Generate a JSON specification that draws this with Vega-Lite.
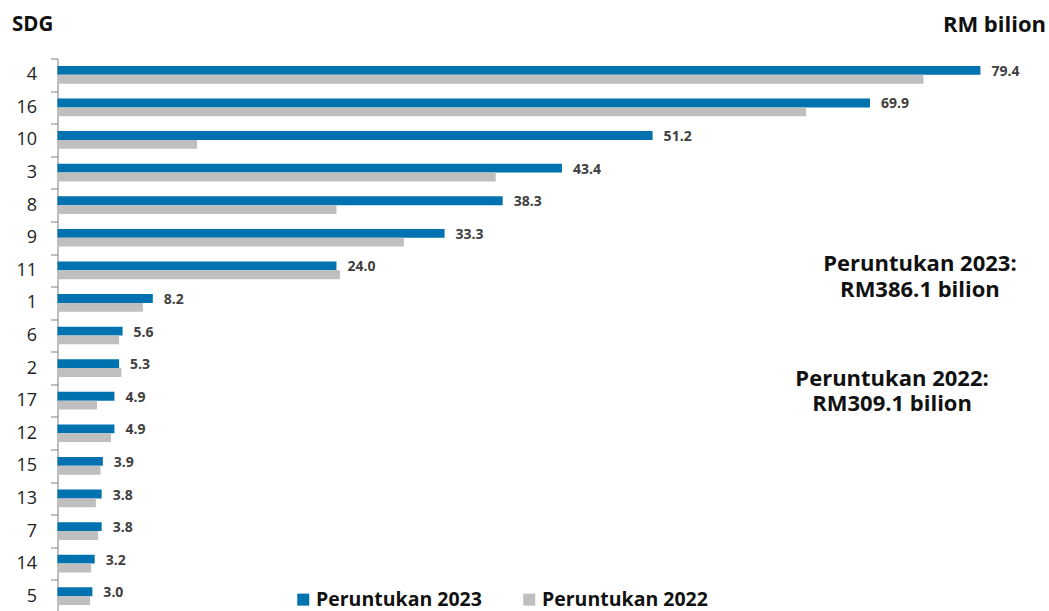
{
  "$schema": "https://vega.github.io/schema/vega-lite/v6.json",
  "width": 988,
  "height": 554,
  "autosize": {"type": "none"},
  "padding": {"left": 57.5, "top": 58.5, "right": 0, "bottom": 0},
  "background": "white",
  "config": {"view": {"stroke": null}, "font": "Open Sans"},
  "datasets": {
    "alloc": [
      {"sdg": "4", "year": "2023", "value": 79.4}, {"sdg": "4", "year": "2022", "value": 74.5},
      {"sdg": "16", "year": "2023", "value": 69.9}, {"sdg": "16", "year": "2022", "value": 64.4},
      {"sdg": "10", "year": "2023", "value": 51.2}, {"sdg": "10", "year": "2022", "value": 12.0},
      {"sdg": "3", "year": "2023", "value": 43.4}, {"sdg": "3", "year": "2022", "value": 37.7},
      {"sdg": "8", "year": "2023", "value": 38.3}, {"sdg": "8", "year": "2022", "value": 24.0},
      {"sdg": "9", "year": "2023", "value": 33.3}, {"sdg": "9", "year": "2022", "value": 29.8},
      {"sdg": "11", "year": "2023", "value": 24.0}, {"sdg": "11", "year": "2022", "value": 24.3},
      {"sdg": "1", "year": "2023", "value": 8.2}, {"sdg": "1", "year": "2022", "value": 7.35},
      {"sdg": "6", "year": "2023", "value": 5.6}, {"sdg": "6", "year": "2022", "value": 5.3},
      {"sdg": "2", "year": "2023", "value": 5.3}, {"sdg": "2", "year": "2022", "value": 5.5},
      {"sdg": "17", "year": "2023", "value": 4.9}, {"sdg": "17", "year": "2022", "value": 3.4},
      {"sdg": "12", "year": "2023", "value": 4.9}, {"sdg": "12", "year": "2022", "value": 4.6},
      {"sdg": "15", "year": "2023", "value": 3.9}, {"sdg": "15", "year": "2022", "value": 3.7},
      {"sdg": "13", "year": "2023", "value": 3.8}, {"sdg": "13", "year": "2022", "value": 3.3},
      {"sdg": "7", "year": "2023", "value": 3.8}, {"sdg": "7", "year": "2022", "value": 3.5},
      {"sdg": "14", "year": "2023", "value": 3.2}, {"sdg": "14", "year": "2022", "value": 2.9},
      {"sdg": "5", "year": "2023", "value": 3.0}, {"sdg": "5", "year": "2022", "value": 2.8}
    ],
    "notes": [
      {"note": "Peruntukan 2023:\nRM386.1 bilion", "anchor": "11", "pos": 74.2},
      {"note": "Peruntukan 2022:\nRM309.1 bilion", "anchor": "17", "pos": 71.8}
    ]
  },
  "data": {"name": "alloc"},
  "layer": [
    {
      "mark": {"type": "bar"},
      "encoding": {
        "y": {
          "field": "sdg", "type": "nominal",
          "scale": {"domain": ["4","16","10","3","8","9","11","1","6","2","17","12","15","13","7","14","5"], "paddingInner": 0, "paddingOuter": 0},
          "axis": {
            "title": "SDG", "titleAngle": 0, "titleAlign": "left", "titleBaseline": "middle",
            "titleX": -46, "titleY": -34, "titleFontSize": 20.5, "titleFontWeight": "bold", "titleColor": "#111111",
            "titleFont": "Open Sans",
            "labelFontSize": 18, "labelColor": "#222222", "labelPadding": 14, "labelFont": "Open Sans",
            "tickSize": 7, "tickBand": "extent", "domainColor": "#7f7f7f", "tickColor": "#7f7f7f", "grid": false
          }
        },
        "yOffset": {
          "field": "year", "type": "nominal",
          "scale": {"domain": ["2023", "2022"], "paddingInner": 0, "paddingOuter": 0.84}
        },
        "x": {
          "field": "value", "type": "quantitative",
          "scale": {"domain": [0, 85], "nice": false},
          "axis": {
            "orient": "top", "title": "RM bilion", "labels": false, "ticks": false, "domain": false, "grid": false,
            "titleX": 988, "titleY": -34, "titleAlign": "right", "titleBaseline": "middle",
            "titleFontSize": 22, "titleFontWeight": "bold", "titleColor": "#111111", "titleFont": "Open Sans"
          }
        },
        "color": {
          "field": "year", "type": "nominal",
          "scale": {"domain": ["2023", "2022"], "range": ["#0072B0", "#BFBFBF"]},
          "legend": {
            "orient": "none", "legendX": 236, "legendY": 531, "direction": "horizontal", "title": null,
            "symbolType": "square", "symbolSize": 144, "symbolStrokeWidth": 0,
            "labelFontSize": 19.5, "labelFontWeight": "bold", "labelColor": "#111111", "labelFont": "Open Sans",
            "labelOffset": 3, "columnPadding": 37, "labelLimit": 400,
            "labelExpr": "'Peruntukan ' + datum.label"
          }
        }
      }
    },
    {
      "transform": [{"filter": "datum.year == '2023'"}],
      "mark": {"type": "text", "align": "left", "baseline": "middle", "dx": 11, "dy": 1.5, "fontSize": 14, "fontWeight": "bold", "color": "#404040"},
      "encoding": {
        "y": {"field": "sdg", "type": "nominal"},
        "yOffset": {"field": "year", "type": "nominal"},
        "x": {"field": "value", "type": "quantitative"},
        "text": {"field": "value", "type": "quantitative", "format": ".1f"}
      }
    },
    {
      "data": {"name": "notes"},
      "transform": [{"filter": "datum.anchor == '11'"}],
      "mark": {"type": "text", "align": "center", "baseline": "middle", "lineBreak": "\n", "lineHeight": 25.5, "dy": -6, "fontSize": 22, "fontWeight": "bold", "color": "#111111"},
      "encoding": {
        "y": {"field": "anchor", "type": "nominal"},
        "x": {"field": "pos", "type": "quantitative"},
        "text": {"field": "note"}
      }
    },
    {
      "data": {"name": "notes"},
      "transform": [{"filter": "datum.anchor == '17'"}],
      "mark": {"type": "text", "align": "center", "baseline": "middle", "lineBreak": "\n", "lineHeight": 25.5, "dy": -22, "fontSize": 22, "fontWeight": "bold", "color": "#111111"},
      "encoding": {
        "y": {"field": "anchor", "type": "nominal"},
        "x": {"field": "pos", "type": "quantitative"},
        "text": {"field": "note"}
      }
    }
  ]
}
